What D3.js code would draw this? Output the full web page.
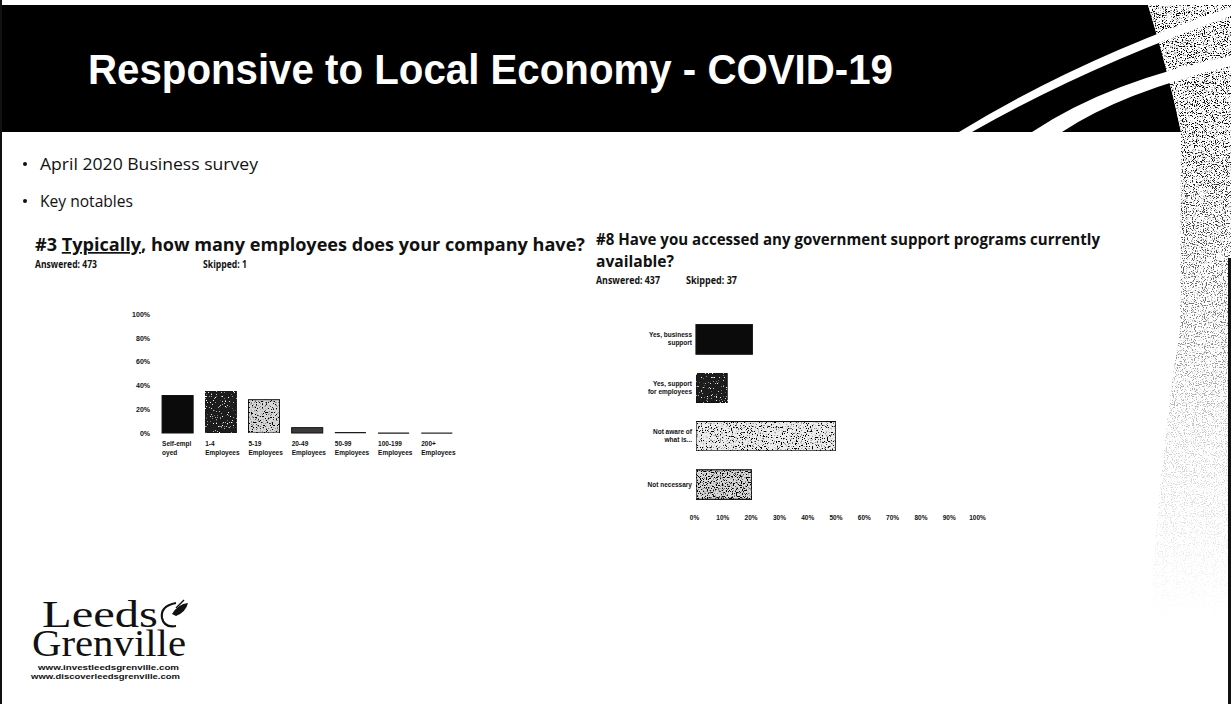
<!DOCTYPE html>
<html><head><meta charset="utf-8">
<script src="https://cdn.jsdelivr.net/npm/d3@7"></script>
<style>html,body{margin:0;padding:0;background:#fff;} svg{display:block;}</style>
</head><body>
<svg id="chart" width="1231" height="704"></svg>
<script>
// ---------- DATA ----------
const pageTitle = "Responsive to Local Economy - COVID-19";
const bullets = ["April 2020 Business survey", "Key notables"];

const employeeCategories = ["Self-employed","1-4 Employees","5-19 Employees","20-49 Employees","50-99 Employees","100-199 Employees","200+ Employees"];
const employeeLabelLines = [["Self-empl","oyed"],["1-4","Employees"],["5-19","Employees"],["20-49","Employees"],["50-99","Employees"],["100-199","Employees"],["200+","Employees"]];
const employeeValues = [31.5, 35, 28, 4.5, 0.8, 0.4, 0.4];
const employeeTicks = [0, 20, 40, 60, 80, 100];

const supportCategories = ["Yes, business support","Yes, support for employees","Not aware of what is...","Not necessary"];
const supportLabelLines = [["Yes, business","support"],["Yes, support","for employees"],["Not aware of","what is..."],["Not necessary"]];
const supportValues = [19.9, 11.0, 49.4, 19.7];
const supportTicks = [0, 10, 20, 30, 40, 50, 60, 70, 80, 90, 100];

// ---------- STYLE ----------
const employeeFills = ["#0b0b0b","#1c1c1c","#d6d6d6","#3a3a3a","#111","#111","#222"];
const employeeGrain = [null,"grainDark","grainLight",null,null,null,null];
const supportFills = ["#0b0b0b","#1a1a1a","#ececec","#d8d8d8"];
const supportGrain = [null,"grainDark","grainLight","grainMid"];

const svg = d3.select("#chart");
const defs = svg.append("defs");

function grainFilter(id, white, slope, inter, seed, freq) {
  const f = defs.append("filter").attr("id", id).attr("x", 0).attr("y", 0).attr("width", 1).attr("height", 1);
  f.append("feTurbulence").attr("type","fractalNoise").attr("baseFrequency", freq).attr("numOctaves", 2).attr("seed", seed).attr("result","n");
  const c = white ? 1 : 0;
  f.append("feColorMatrix").attr("in","n").attr("type","matrix")
    .attr("values", `0 0 0 0 ${c}  0 0 0 0 ${c}  0 0 0 0 ${c}  ${slope} 0 0 0 ${inter}`).attr("result","dots");
  f.append("feComposite").attr("in","dots").attr("in2","SourceGraphic").attr("operator","atop");
}
grainFilter("grainLight", false, -9, 4.0, 4, 0.8);
grainFilter("grainMid", false, -9, 4.4, 9, 0.8);
grainFilter("grainDark", true, -9, 3.1, 5, 0.8);
grainFilter("grainRegion", false, -9, 4.3, 11, 0.9);

// fade mask for the speckled decoration
const grad = defs.append("linearGradient").attr("id","fadeGrad").attr("gradientUnits","userSpaceOnUse")
  .attr("x1",0).attr("y1",0).attr("x2",0).attr("y2",620);
[[0,1],[0.22,0.95],[0.45,0.6],[0.7,0.2],[1,0]].forEach(([o,v]) =>
  grad.append("stop").attr("offset",o).attr("stop-color","#fff").attr("stop-opacity",v));
const mask = defs.append("mask").attr("id","fadeMask").attr("maskUnits","userSpaceOnUse")
  .attr("x",0).attr("y",0).attr("width",1231).attr("height",704);
mask.append("rect").attr("width",1231).attr("height",704).attr("fill","url(#fadeGrad)");

// ---------- HEADER ----------
svg.append("rect").attr("x",0).attr("y",5).attr("width",1231).attr("height",127).attr("fill","#000");
const regionPath = "M1148,5 Q1168,70 1181,132 L1180,330 Q1160,450 1150,620 L1231,620 L1231,5 Z";
svg.append("path").attr("d", regionPath).attr("fill","#fff");
defs.append("clipPath").attr("id","regionClip").append("path").attr("d", regionPath);
svg.append("g").attr("clip-path","url(#regionClip)").attr("mask","url(#fadeMask)")
  .append("rect").attr("x",1130).attr("y",5).attr("width",101).attr("height",620)
  .attr("fill","#fff").attr("filter","url(#grainRegion)");
// white swooshes
svg.append("path").attr("d","M959,132 Q1080,58 1231,7 L1231,16 Q1088,66 972,132 Z").attr("fill","#fff");
svg.append("path").attr("d","M1032,132 Q1110,80 1231,56 L1231,66 Q1122,92 1062,132 Z").attr("fill","#fff");

svg.append("text").attr("x",88).attr("y",84).text(pageTitle)
  .attr("fill","#fff").attr("font-family","Liberation Sans, Arial, sans-serif").attr("font-weight","bold")
  .attr("font-size",43).attr("textLength",805).attr("lengthAdjust","spacingAndGlyphs");

// borders
svg.append("rect").attr("x",0).attr("y",0).attr("width",2).attr("height",704).attr("fill","#111");
svg.append("rect").attr("x",1228).attr("y",258).attr("width",3).attr("height",446).attr("fill","#111");

// ---------- BULLETS ----------
const bodyFont = "Open Sans, Liberation Sans, sans-serif";
const bulletLens = [218, 93];
bullets.forEach((b,i) => {
  const yb = 170 + i*37;
  svg.append("circle").attr("cx",25).attr("cy",yb-6).attr("r",2).attr("fill","#111");
  svg.append("text").attr("x",40).attr("y",yb).text(b).attr("font-family",bodyFont)
    .attr("font-size",17).attr("fill","#111").attr("textLength",bulletLens[i]).attr("lengthAdjust","spacingAndGlyphs");
});

// ---------- LEFT QUESTION ----------
const q3 = svg.append("text").attr("x",35).attr("y",251).attr("font-family",bodyFont).attr("font-weight","bold")
  .attr("font-size",17).attr("fill","#111").attr("textLength",550).attr("lengthAdjust","spacingAndGlyphs");
q3.append("tspan").text("#3 ");
q3.append("tspan").text("Typically").attr("text-decoration","underline");
q3.append("tspan").text(", how many employees does your company have?");
svg.append("text").attr("x",35).attr("y",268).text("Answered: 473").attr("font-family",bodyFont).attr("font-weight","bold")
  .attr("font-size",11).attr("fill","#111").attr("textLength",62).attr("lengthAdjust","spacingAndGlyphs");
svg.append("text").attr("x",203).attr("y",268).text("Skipped: 1").attr("font-family",bodyFont).attr("font-weight","bold")
  .attr("font-size",11).attr("fill","#111").attr("textLength",44).attr("lengthAdjust","spacingAndGlyphs");

// ---------- LEFT CHART ----------
const tinyFont = "Liberation Sans, Arial, sans-serif";
const xE = d3.scaleBand().domain(employeeCategories).range([156, 458.4]).paddingInner(0.28).paddingOuter(0.14);
const yE = d3.scaleLinear().domain([0,100]).range([433, 314]);

const gE = svg.append("g");
gE.selectAll("rect.bar").data(employeeValues).join("rect").attr("class","bar")
  .attr("x",(d,i)=>xE(employeeCategories[i])).attr("width",xE.bandwidth())
  .attr("y",d=>yE(d)).attr("height",d=>Math.max(1.2, yE(0)-yE(d)))
  .attr("fill",(d,i)=>employeeFills[i]).attr("stroke","#111").attr("stroke-width",(d,i)=> i<4 ? 1 : 0)
  .attr("filter",(d,i)=>employeeGrain[i] ? `url(#${employeeGrain[i]})` : null);

const axE = svg.append("g").attr("transform","translate(152,0)")
  .call(d3.axisLeft(yE).tickValues(employeeTicks).tickFormat(d=>d+"%").tickSize(0).tickPadding(2));
axE.select(".domain").remove();
axE.selectAll("text").attr("font-family",tinyFont).attr("font-weight","bold").attr("font-size",7).attr("fill","#111");

const lblE = gE.selectAll("text.cat").data(employeeCategories).join("text").attr("class","cat")
  .attr("font-family",tinyFont).attr("font-weight","bold").attr("font-size",6.5).attr("fill","#111");
lblE.each(function(d,i){
  const t = d3.select(this);
  employeeLabelLines[i].forEach((ln,j)=>{
    t.append("tspan").attr("x",xE(d)).attr("y",446 + j*9).text(ln);
  });
});

// ---------- RIGHT QUESTION ----------
svg.append("text").attr("x",596).attr("y",245).text("#8 Have you accessed any government support programs currently")
  .attr("font-family",bodyFont).attr("font-weight","bold").attr("font-size",15.5).attr("fill","#111")
  .attr("textLength",504).attr("lengthAdjust","spacingAndGlyphs");
svg.append("text").attr("x",596).attr("y",267).text("available?")
  .attr("font-family",bodyFont).attr("font-weight","bold").attr("font-size",15.5).attr("fill","#111")
  .attr("textLength",78).attr("lengthAdjust","spacingAndGlyphs");
svg.append("text").attr("x",596).attr("y",284).text("Answered: 437").attr("font-family",bodyFont).attr("font-weight","bold")
  .attr("font-size",10.5).attr("fill","#111").attr("textLength",64).attr("lengthAdjust","spacingAndGlyphs");
svg.append("text").attr("x",686).attr("y",284).text("Skipped: 37").attr("font-family",bodyFont).attr("font-weight","bold")
  .attr("font-size",10.5).attr("fill","#111").attr("textLength",51).attr("lengthAdjust","spacingAndGlyphs");

// ---------- RIGHT CHART ----------
const yS = d3.scaleBand().domain(supportCategories).range([315, 509]).paddingInner(0.39).paddingOuter(0.2);
const xS = d3.scaleLinear().domain([0,100]).range([696, 979]);

const gS = svg.append("g");
gS.selectAll("rect.bar").data(supportValues).join("rect").attr("class","bar")
  .attr("x",xS(0)).attr("y",(d,i)=>yS(supportCategories[i])).attr("height",yS.bandwidth())
  .attr("width",d=>xS(d)-xS(0))
  .attr("fill",(d,i)=>supportFills[i]).attr("stroke","#111").attr("stroke-width",1.2)
  .attr("filter",(d,i)=>supportGrain[i] ? `url(#${supportGrain[i]})` : null);

const lblS = gS.selectAll("text.cat").data(supportCategories).join("text").attr("class","cat")
  .attr("font-family",tinyFont).attr("font-weight","bold").attr("font-size",6.5).attr("fill","#111")
  .attr("text-anchor","end");
lblS.each(function(d,i){
  const t = d3.select(this);
  const lines = supportLabelLines[i];
  const cy = yS(d) + yS.bandwidth()/2;
  lines.forEach((ln,j)=>{
    t.append("tspan").attr("x",692).attr("y",cy + 2 + (j - (lines.length-1)/2)*8).text(ln);
  });
});

const axS = svg.append("g").attr("transform","translate(-2,513)")
  .call(d3.axisBottom(xS).tickValues(supportTicks).tickFormat(d=>d+"%").tickSize(0).tickPadding(2));
axS.select(".domain").remove();
axS.selectAll("text").attr("font-family",tinyFont).attr("font-weight","bold").attr("font-size",6.5).attr("fill","#111");

// ---------- LOGO ----------
const logo = svg.append("g");
logo.append("text").attr("x",42).attr("y",627).text("Leeds").attr("font-family","Liberation Serif, serif")
  .attr("font-size",38).attr("fill","#111").attr("textLength",116).attr("lengthAdjust","spacingAndGlyphs");
logo.append("text").attr("x",32).attr("y",656).text("Grenville").attr("font-family","Liberation Serif, serif")
  .attr("font-size",38).attr("fill","#111").attr("textLength",154).attr("lengthAdjust","spacingAndGlyphs");
logo.append("path").attr("d","M176,603 Q160,606 162,618 Q164,628 176,626").attr("fill","none").attr("stroke","#111").attr("stroke-width",2.2);
logo.append("path").attr("d","M172,614 Q178,604 188,603 Q186,612 176,616 Z").attr("fill","#111");
logo.append("path").attr("d","M176,608 L184,600").attr("stroke","#111").attr("stroke-width",1.5);
logo.append("text").attr("x",38).attr("y",670).text("www.investleedsgrenville.com").attr("font-family",tinyFont)
  .attr("font-weight","bold").attr("font-size",7).attr("fill","#111").attr("textLength",141).attr("lengthAdjust","spacingAndGlyphs");
logo.append("text").attr("x",31).attr("y",679).text("www.discoverleedsgrenville.com").attr("font-family",tinyFont)
  .attr("font-weight","bold").attr("font-size",7).attr("fill","#111").attr("textLength",149).attr("lengthAdjust","spacingAndGlyphs");
</script>
</body></html>
